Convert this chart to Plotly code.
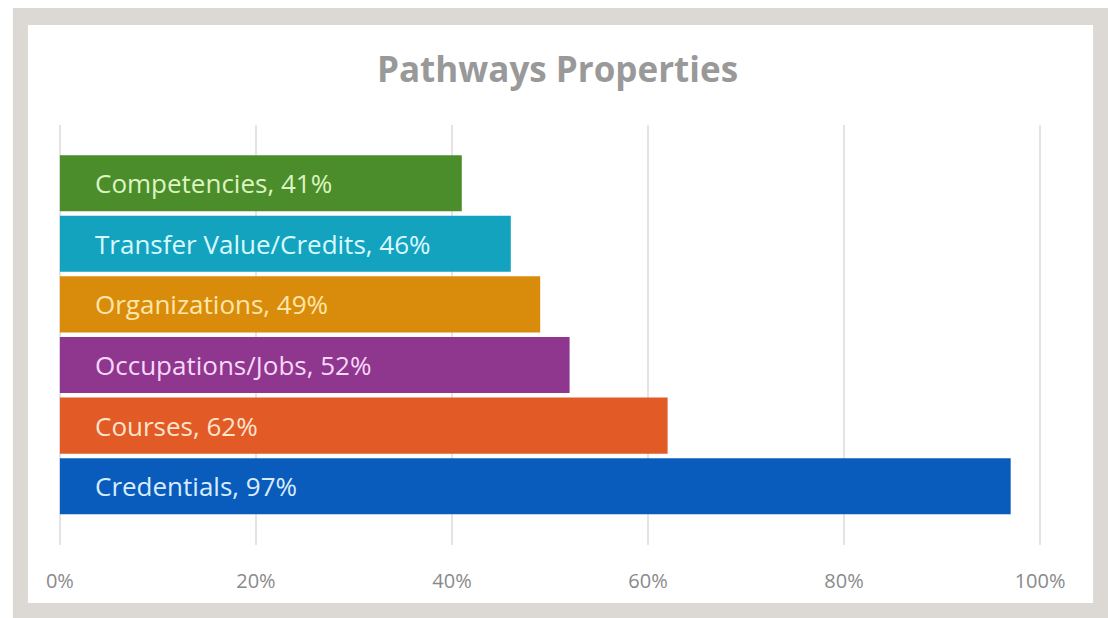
import plotly.graph_objects as go

categories = ["Credentials", "Courses", "Occupations/Jobs", "Organizations",
              "Transfer Value/Credits", "Competencies"]
values = [97, 62, 52, 49, 46, 41]
bar_colors = ["#0a5cbc", "#e25a26", "#8f368e", "#d98c0b", "#14a3bf", "#4b8c2b"]
text_colors = ["#d8ecff", "#ffe4cc", "#f8d8f8", "#ffe6a8", "#d8faff", "#dcf5c0"]
tick_vals = [0, 20, 40, 60, 80, 100]
tick_text = ["0%", "20%", "40%", "60%", "80%", "100%"]
title = "Pathways Properties"

W, H = 1108, 618
# x=0 at px 60, x=100 at px 1040 ; range padded by 0.5 so edge gridlines show
XPAD = 0.5
scale = (1040 - 60) / 100.0
ML = 60 - XPAD * scale
MR = W - (1040 + XPAD * scale)
MT, MB = 125, 73
pw, ph = W - ML - MR, H - MT - MB

def px(x):
    return (x - ML) / pw

def py(y):
    return (H - MB - y) / ph

fig = go.Figure()
fig.add_trace(go.Bar(
    x=values, y=categories, orientation="h",
    marker=dict(color=bar_colors, line=dict(width=0)),
    hoverinfo="skip", showlegend=False,
))

annotations = []
for c, v, tc in zip(categories, values, text_colors):
    annotations.append(dict(
        x=0, y=c, xref="x", yref="y", xanchor="left", yanchor="middle",
        xshift=33, text=f"{c}, {v}%", showarrow=False,
        font=dict(family="Open Sans", size=26, color=tc),
    ))
annotations.append(dict(
    x=px(557), y=py(68), xref="paper", yref="paper", xanchor="center",
    yanchor="middle", text=f"<b>{title}</b>", showarrow=False,
    font=dict(family="Open Sans", size=35, color="#999999"),
))

shapes = [
    dict(type="rect", xref="paper", yref="paper", x0=px(13), x1=px(1108),
         y0=py(8), y1=py(618), fillcolor="#dcd8d4", line=dict(width=0), layer="below"),
    dict(type="rect", xref="paper", yref="paper", x0=px(28), x1=px(1093),
         y0=py(25), y1=py(603), fillcolor="#ffffff", line=dict(width=0), layer="below"),
]

fig.update_layout(
    width=W, height=H,
    margin=dict(l=ML, r=MR, t=MT, b=MB, pad=0),
    paper_bgcolor="#ffffff", plot_bgcolor="rgba(0,0,0,0)",
    bargap=0.075,
    annotations=annotations, shapes=shapes,
    xaxis=dict(range=[-XPAD, 100 + XPAD], tickvals=tick_vals, ticktext=tick_text,
               showgrid=True, gridcolor="#e4e4e4", gridwidth=2, zeroline=False,
               showline=False, ticks="", ticklabelstandoff=22,
               tickfont=dict(family="Open Sans", size=20, color="#8a8a8a"),
               fixedrange=True),
    yaxis=dict(range=[-0.97, 5.96], showticklabels=False, showgrid=False,
               zeroline=False, showline=False, ticks="", fixedrange=True),
)

fig.write_html("out.html", config={"displayModeBar": False},
               post_script="document.body.style.margin='0';document.body.style.padding='0';")
